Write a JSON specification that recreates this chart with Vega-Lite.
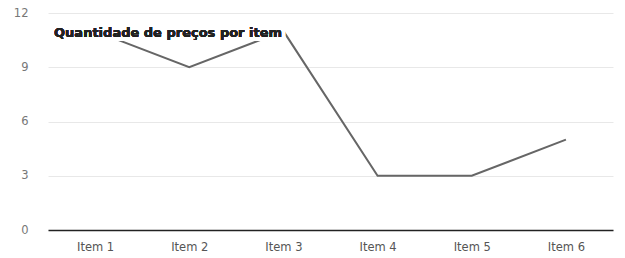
{
  "$schema": "https://vega.github.io/schema/vega-lite/v6.json",
  "width": 565,
  "height": 217,
  "autosize": {"type": "none"},
  "padding": {"left": 48, "top": 13, "right": 12, "bottom": 28},
  "background": "white",
  "config": {
    "view": {"stroke": null},
    "font": "DejaVu Sans"
  },
  "data": {
    "values": [
      {"item": "Item 1", "qtd": 11},
      {"item": "Item 2", "qtd": 9},
      {"item": "Item 3", "qtd": 11},
      {"item": "Item 4", "qtd": 3},
      {"item": "Item 5", "qtd": 3},
      {"item": "Item 6", "qtd": 5}
    ]
  },
  "encoding": {
    "x": {
      "field": "item",
      "type": "nominal",
      "sort": null,
      "scale": {"paddingInner": 0, "paddingOuter": 0},
      "axis": {
        "title": null,
        "labelAngle": 0,
        "ticks": false,
        "domainColor": "#222",
        "domainWidth": 1.5,
        "labelColor": "#555",
        "labelFontSize": 11.5,
        "labelPadding": 11
      }
    },
    "y": {
      "field": "qtd",
      "type": "quantitative",
      "scale": {"domain": [0, 12]},
      "axis": {
        "title": null,
        "values": [0, 3, 6, 9, 12],
        "domain": false,
        "ticks": false,
        "labelColor": "#777",
        "labelFontSize": 11.5,
        "labelPadding": 20,
        "gridColor": "#e8e8e8",
        "gridWidth": 1
      }
    }
  },
  "layer": [
    {
      "mark": {"type": "line", "color": "#666666", "strokeWidth": 2}
    },
    {
      "mark": {
        "type": "text",
        "text": "Quantidade de preços por item",
        "fontWeight": "bold",
        "fontSize": 13,
        "align": "center",
        "baseline": "middle",
        "stroke": "white",
        "strokeWidth": 8,
        "fill": "white",
        "dx": 73,
        "dy": 2
      },
      "encoding": {
        "x": {"datum": "Item 1"},
        "y": {"datum": 11}
      }
    },
    {
      "mark": {
        "type": "text",
        "text": "Quantidade de preços por item",
        "fontWeight": "bold",
        "fontSize": 13,
        "align": "center",
        "baseline": "middle",
        "color": "#222222",
        "dx": 73,
        "dy": 2
      },
      "encoding": {
        "x": {"datum": "Item 1"},
        "y": {"datum": 11}
      }
    }
  ]
}
